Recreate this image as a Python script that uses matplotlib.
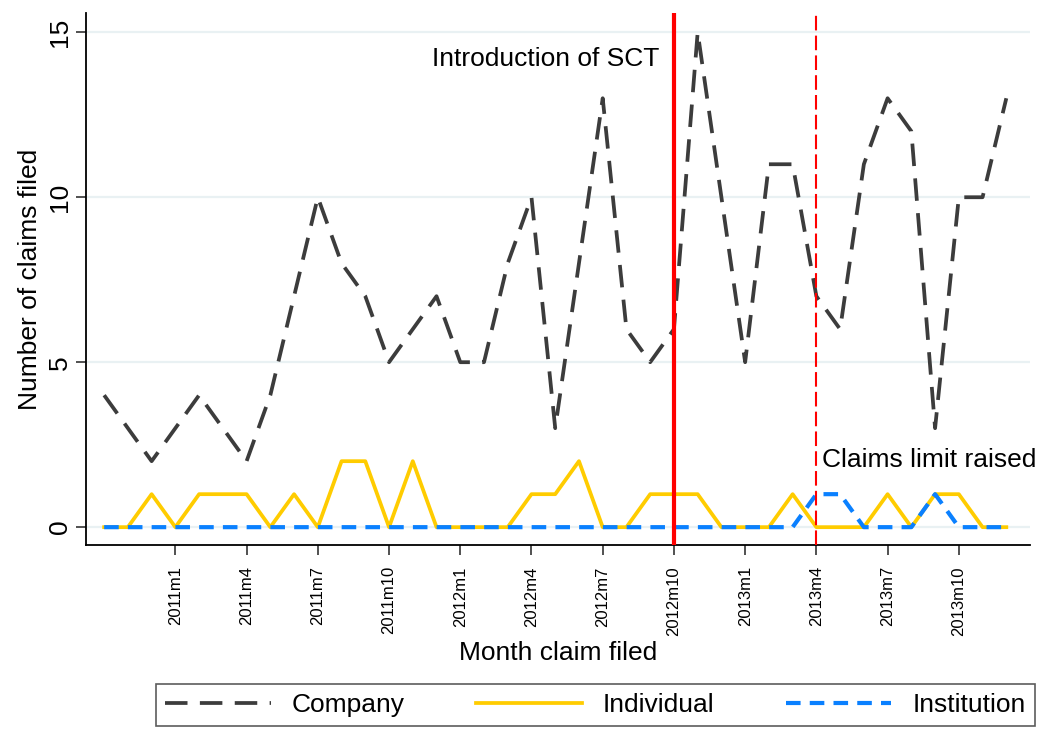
import matplotlib
matplotlib.use('Agg')
import matplotlib.pyplot as plt

# monthly counts, 2010m10 .. 2013m12
months = ['2010m10', '2010m11', '2010m12',
          '2011m1', '2011m2', '2011m3', '2011m4', '2011m5', '2011m6',
          '2011m7', '2011m8', '2011m9', '2011m10', '2011m11', '2011m12',
          '2012m1', '2012m2', '2012m3', '2012m4', '2012m5', '2012m6',
          '2012m7', '2012m8', '2012m9', '2012m10', '2012m11', '2012m12',
          '2013m1', '2013m2', '2013m3', '2013m4', '2013m5', '2013m6',
          '2013m7', '2013m8', '2013m9', '2013m10', '2013m11', '2013m12']
company = [4, 3, 2, 3, 4, 3, 2, 4, 7, 10, 8, 7, 5, 6, 7,
           5, 5, 8, 10, 3, 8, 13, 6, 5, 6, 15, 10,
           5, 11, 11, 7, 6, 11, 13, 12, 3, 10, 10, 13]
individual = [0, 0, 1, 0, 1, 1, 1, 0, 1, 0, 2, 2, 0, 2, 0,
              0, 0, 0, 1, 1, 2, 0, 0, 1, 1, 1, 0,
              0, 0, 1, 0, 0, 0, 1, 0, 1, 1, 0, 0]
institution = [0, 0, 0, 0, 0, 0, 0, 0, 0, 0, 0, 0, 0, 0, 0,
               0, 0, 0, 0, 0, 0, 0, 0, 0, 0, 0, 0,
               0, 0, 0, 1, 1, 0, 0, 0, 1, 0, 0, 0]
tick_months = ['2011m1', '2011m4', '2011m7', '2011m10', '2012m1', '2012m4',
               '2012m7', '2012m10', '2013m1', '2013m4', '2013m7', '2013m10']
sct_month = '2012m10'
limit_month = '2013m4'

plt.rcParams['font.family'] = ['Liberation Sans', 'DejaVu Sans']
FS = 19

x = list(range(len(months)))

fig = plt.figure(figsize=(10.5, 7.3), dpi=100)
ax = fig.add_axes([0.082, 0.253, 0.899, 0.729])

ax.grid(axis='y', color='#e9f1f3', linewidth=1.6, zorder=0)
ax.set_axisbelow(True)

l1, = ax.plot(x, company, color='#3c3c3c', linewidth=2.7, dashes=(6, 3.3),
              label='Company', zorder=3)
l2, = ax.plot(x, individual, color='#ffcc00', linewidth=2.7,
              label='Individual', zorder=4)
l3, = ax.plot(x, institution, color='#0a80ff', linewidth=3.0, dashes=(3.5, 2.2),
              label='Institution', zorder=5)

ax.axvline(months.index(sct_month), color='#ff0000', linewidth=3, zorder=6)
ax.axvline(months.index(limit_month), color='#ff0000', linewidth=1.5,
           dashes=(7, 2.5), zorder=6)

ax.text(months.index(sct_month) - 0.6, 14.2, 'Introduction of SCT',
        ha='right', va='center', fontsize=FS)
ax.text(months.index(limit_month) + 0.25, 2.05, 'Claims limit raised',
        ha='left', va='center', fontsize=FS)

ax.set_xlim(-0.76, 39)
ax.set_ylim(-0.55, 15.58)
ax.set_xticks([months.index(m) for m in tick_months])
ax.set_xticklabels(tick_months, rotation=90, fontsize=12)
ax.set_yticks([0, 5, 10, 15])
ax.set_yticklabels(['0', '5', '10', '15'], rotation=90, va='center', fontsize=FS)
ax.tick_params(axis='both', direction='out', length=7, width=1.2, color='#333333')
ax.tick_params(axis='x', pad=8)

for s in ['top', 'right']:
    ax.spines[s].set_visible(False)
for s in ['left', 'bottom']:
    ax.spines[s].set_linewidth(1.3)

ax.set_xlabel('Month claim filed', fontsize=FS, labelpad=4)
ax.set_ylabel('Number of claims filed', fontsize=FS, labelpad=4)

leg = fig.legend(handles=[l1, l2, l3], loc='center', ncol=3,
                 bbox_to_anchor=(0.567, 0.034), fontsize=FS, frameon=True,
                 fancybox=False, edgecolor='#333333', handlelength=4.0,
                 columnspacing=2.7, borderpad=0.35)
leg.get_frame().set_linewidth(1.2)

fig.savefig('out.png', dpi=100)
